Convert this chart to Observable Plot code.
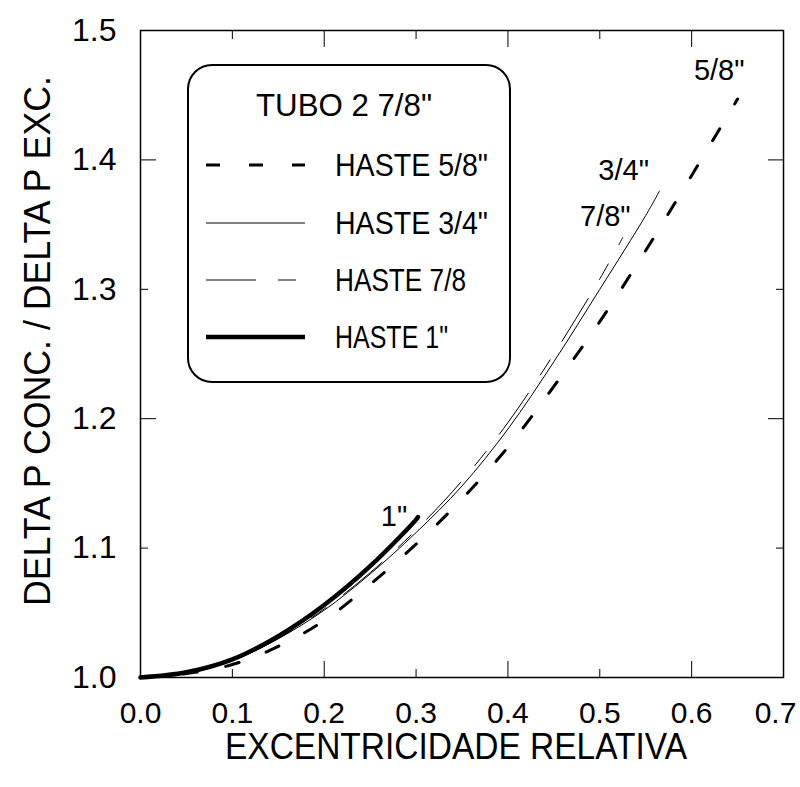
<!DOCTYPE html>
<html>
<head>
<meta charset="utf-8">
<script src="https://cdn.jsdelivr.net/npm/d3@7"></script>
<script src="https://cdn.jsdelivr.net/npm/@observablehq/plot@0.6"></script>
<style>
  html, body { margin: 0; padding: 0; background: #fff; }
  #chart { width: 800px; height: 787px; }
</style>
</head>
<body>
<div id="chart"></div>
<script>
// ---- data ----
const xHaste58 = [0, 0.05, 0.1, 0.15, 0.2, 0.25, 0.3, 0.35, 0.4, 0.45, 0.5, 0.55, 0.6, 0.65];
const yHaste58 = [1.0, 1.003, 1.01, 1.024, 1.044, 1.072, 1.103, 1.138, 1.178, 1.225, 1.275, 1.33, 1.388, 1.447];

const xHaste34 = [0, 0.05, 0.1, 0.15, 0.2, 0.25, 0.3, 0.35, 0.4, 0.45, 0.5, 0.55, 0.565];
const yHaste34 = [1.0, 1.003, 1.013, 1.03, 1.052, 1.08, 1.112, 1.148, 1.192, 1.244, 1.3, 1.357, 1.376];

const xHaste78 = [0, 0.05, 0.1, 0.15, 0.2, 0.25, 0.3, 0.35, 0.4, 0.45, 0.5, 0.525];
const yHaste78 = [1.0, 1.003, 1.013, 1.03, 1.053, 1.081, 1.114, 1.152, 1.197, 1.25, 1.308, 1.34];

const xHaste1 = [0, 0.05, 0.1, 0.15, 0.2, 0.25, 0.3, 0.302];
const yHaste1 = [1.0, 1.004, 1.014, 1.032, 1.056, 1.086, 1.122, 1.124];

const curveLabelText = ['5/8"', '3/4"', '7/8"', '1"'];
const curveLabelX = [0.63, 0.526, 0.506, 0.276];
const curveLabelY = [1.469, 1.392, 1.356, 1.124];

const xTicks = [0, 0.1, 0.2, 0.3, 0.4, 0.5, 0.6, 0.7];
const xMajor = [0.2, 0.4, 0.6];
const xMinor = [0.1, 0.3, 0.5];
const yTicks = [1.0, 1.1, 1.2, 1.3, 1.4, 1.5];
const yMajor = [1.2, 1.4];
const yMinor = [1.1, 1.3];

const legendTitle = 'TUBO 2 7/8"';
const legendLabels = ['HASTE 5/8"', 'HASTE 3/4"', 'HASTE 7/8', 'HASTE 1"'];
const xTitle = "EXCENTRICIDADE RELATIVA";
const yTitle = "DELTA P CONC. / DELTA P EXC.";

// ---- build tables ----
const toRows = (xs, ys) => xs.map((x, i) => ({x, y: ys[i]}));
const d58 = toRows(xHaste58, yHaste58);
const d34 = toRows(xHaste34, yHaste34);
const d78 = toRows(xHaste78, yHaste78);
const d1 = toRows(xHaste1, yHaste1);
const labels = curveLabelText.map((t, i) => ({t, x: curveLabelX[i], y: curveLabelY[i]}));

const styles = {
  s58: {strokeWidth: 3, strokeDasharray: "14,29"},
  s34: {strokeWidth: 1},
  s78: {strokeWidth: 1, strokeDasharray: "50,22,18,22"},
  s1: {strokeWidth: 4.5}
};

const blank = () => "";
const font = "'Liberation Sans', Arial, Helvetica, sans-serif";

const chart = Plot.plot({
  width: 800,
  height: 787,
  marginLeft: 140,
  marginRight: 17,
  marginTop: 30,
  marginBottom: 110,
  style: {fontFamily: font, background: "#fff", color: "#000", overflow: "visible"},
  x: {domain: [0, 0.7]},
  y: {domain: [1.0, 1.5]},
  marks: [
    Plot.frame({stroke: "#000", strokeWidth: 1.5}),
    // tick labels
    Plot.axisX(xTicks, {anchor: "bottom", tickSize: 0, tickPadding: 24, fontSize: 30, tickFormat: d3.format(".1f"), label: null}),
    Plot.axisY(yTicks, {anchor: "left", tickSize: 0, tickPadding: 24, fontSize: 32, tickFormat: d3.format(".1f"), label: null}),
    // inward ticks
    Plot.axisX(xMajor, {anchor: "bottom", tickSize: -16, tickFormat: blank, label: null}),
    Plot.axisX(xMinor, {anchor: "bottom", tickSize: -8, tickFormat: blank, label: null}),
    Plot.axisX(xMajor, {anchor: "top", tickSize: -16, tickFormat: blank, label: null}),
    Plot.axisX(xMinor, {anchor: "top", tickSize: -8, tickFormat: blank, label: null}),
    Plot.axisY(yMajor, {anchor: "left", tickSize: -16, tickFormat: blank, label: null}),
    Plot.axisY(yMinor, {anchor: "left", tickSize: -8, tickFormat: blank, label: null}),
    Plot.axisY(yMajor, {anchor: "right", tickSize: -16, tickFormat: blank, label: null}),
    Plot.axisY(yMinor, {anchor: "right", tickSize: -8, tickFormat: blank, label: null}),
    // curves
    Plot.line(d58, {x: "x", y: "y", stroke: "#000", curve: "catmull-rom", ...styles.s58}),
    Plot.line(d34, {x: "x", y: "y", stroke: "#000", curve: "catmull-rom", ...styles.s34}),
    Plot.line(d78, {x: "x", y: "y", stroke: "#000", curve: "catmull-rom", ...styles.s78}),
    Plot.line(d1, {x: "x", y: "y", stroke: "#000", curve: "catmull-rom", ...styles.s1}),
    // curve labels
    Plot.text(labels, {x: "x", y: "y", text: "t", fontSize: 29, fill: "#000"}),
    // axis titles
    Plot.text([xTitle], {frameAnchor: "bottom", textAnchor: "middle", lineAnchor: "middle", text: d => d, dy: 70, dx: -6, fontSize: 37, fill: "#000"}),
    Plot.text([yTitle], {frameAnchor: "left", textAnchor: "middle", lineAnchor: "middle", text: d => d, rotate: -90, dx: -102, dy: -13, fontSize: 37, fill: "#000"})
  ]
});

document.getElementById("chart").appendChild(chart);

// ---- legend box (decoration, drawn into the same SVG) ----
const svg = d3.select(chart);
const g = svg.append("g").attr("font-family", font).attr("fill", "#000").attr("text-anchor", "start");
g.append("rect")
  .attr("x", 188).attr("y", 65).attr("width", 322).attr("height", 317)
  .attr("rx", 24).attr("ry", 24)
  .attr("fill", "#fff").attr("stroke", "#000").attr("stroke-width", 2);
g.append("text")
  .attr("x", 344).attr("y", 116).attr("text-anchor", "middle")
  .attr("font-size", 32).attr("textLength", 176).attr("lengthAdjust", "spacingAndGlyphs")
  .text(legendTitle);
const rowBase = [176, 234, 291, 348];
const rowWidth = [153, 153, 131, 113];
const rowStyles = [styles.s58, styles.s34, styles.s78, styles.s1];
legendLabels.forEach((lab, i) => {
  const s = rowStyles[i];
  g.append("line")
    .attr("x1", 206).attr("x2", 305)
    .attr("y1", rowBase[i] - 11).attr("y2", rowBase[i] - 11)
    .attr("stroke", "#000")
    .attr("stroke-width", s.strokeWidth)
    .attr("stroke-dasharray", s.strokeDasharray || null);
  g.append("text")
    .attr("x", 335).attr("y", rowBase[i])
    .attr("font-size", 31)
    .attr("textLength", rowWidth[i]).attr("lengthAdjust", "spacingAndGlyphs")
    .text(lab);
});

// condense the axis titles to the reference's narrow lettering
svg.selectAll("text").filter(function () { return this.textContent === xTitle; })
  .attr("textLength", 462).attr("lengthAdjust", "spacingAndGlyphs");
svg.selectAll("text").filter(function () { return this.textContent === yTitle; })
  .attr("textLength", 530).attr("lengthAdjust", "spacingAndGlyphs");
// keep the last x tick label inside the picture, as in the reference
svg.selectAll("text").filter(function () { return this.textContent === "0.7"; })
  .attr("dx", -8);
</script>
</body>
</html>
